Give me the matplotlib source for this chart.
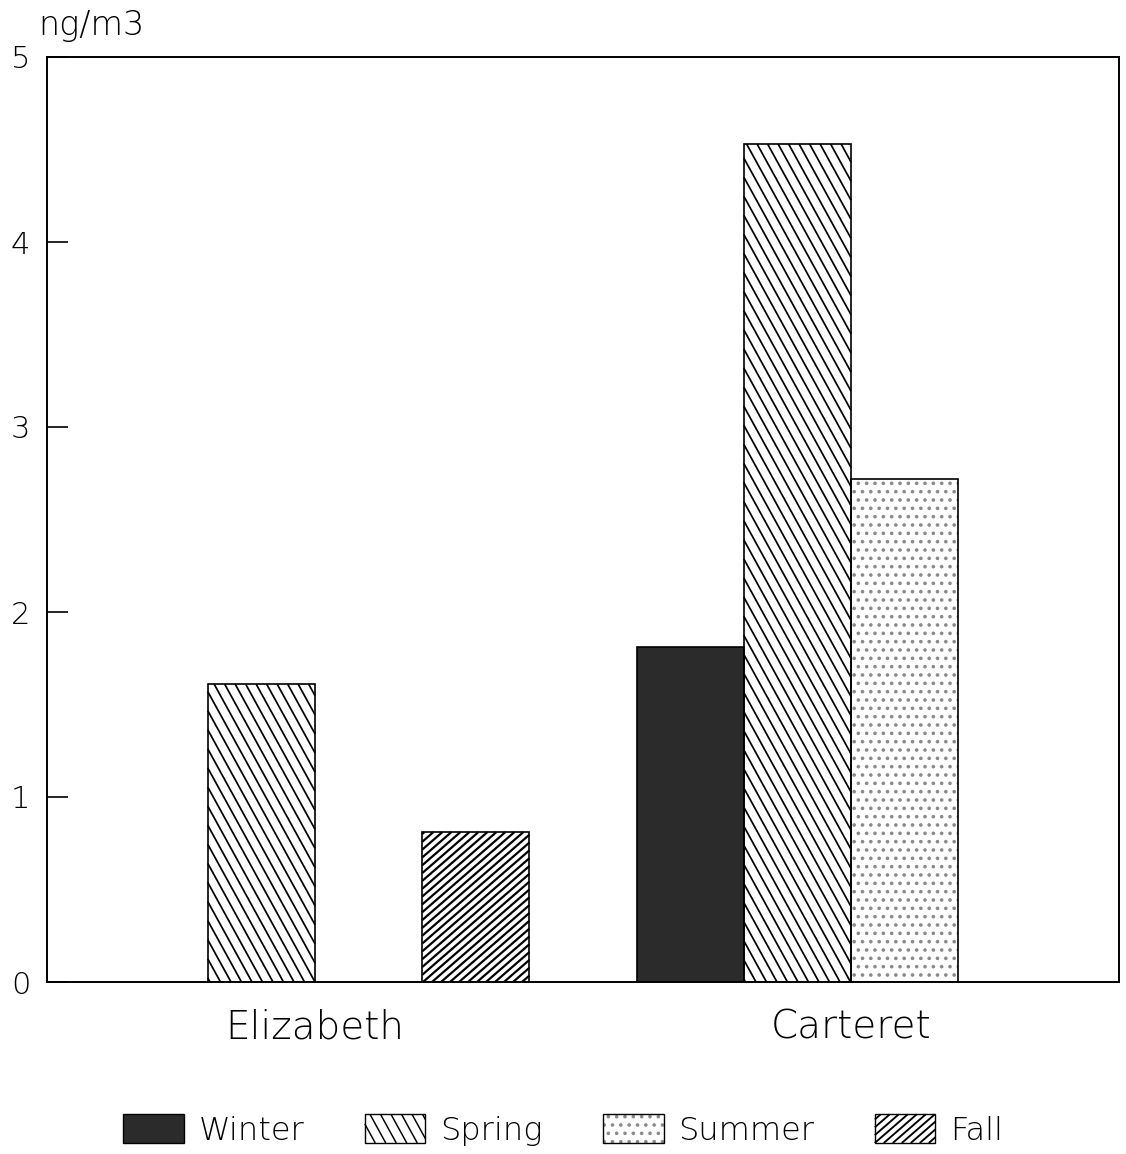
import matplotlib
matplotlib.use("Agg")
import matplotlib.pyplot as plt
import numpy as np
from matplotlib.patches import Patch, Rectangle
from matplotlib.collections import LineCollection
from matplotlib.legend_handler import HandlerBase

plt.rcParams['font.family'] = ['DejaVu Sans']
plt.rcParams['font.weight'] = 'light'
plt.rcParams['hatch.linewidth'] = 1.4

sites = ["Elizabeth", "Carteret"]
seasons = ["Winter", "Spring", "Summer", "Fall"]
values = {
    "Winter": [0.0, 1.81],
    "Spring": [1.61, 4.53],
    "Summer": [0.0, 2.72],
    "Fall":   [0.81, 0.0],
}
yticks = [0, 1, 2, 3, 4, 5]
unit_label = "ng/m3"

# line hatching: (horizontal spacing px, dx/dy slope, direction, linewidth pt)
line_hatch = {
    "Spring": (10.5, 0.55, -1, 1.25),
    "Fall":   (9.0, 1.15, +1, 1.6),
}
styles = {
    "Winter": dict(facecolor="#2b2b2b", hatch=None, hatchcolor="black"),
    "Spring": dict(facecolor="white", hatch=None, hatchcolor="black"),
    "Summer": dict(facecolor="white", hatch="..", hatchcolor="#8a8a8a"),
    "Fall":   dict(facecolor="white", hatch=None, hatchcolor="black"),
}


def hatch_segments(x0, y0, w, h, spacing, slope, sign):
    shift = slope * h
    if sign > 0:
        cmin, cmax = x0 - shift, x0 + w
    else:
        cmin, cmax = x0, x0 + w + shift
    cs = np.arange(np.ceil(cmin / spacing) * spacing, cmax, spacing)
    segs = []
    for c in cs:
        ya = y0 + (x0 - c) / (sign * slope)
        yb = y0 + (x0 + w - c) / (sign * slope)
        lo = max(y0, min(ya, yb))
        hi = min(y0 + h, max(ya, yb))
        if hi > lo:
            segs.append([(c + sign * slope * (lo - y0), lo),
                         (c + sign * slope * (hi - y0), hi)])
    return segs


fig = plt.figure(figsize=(11.26, 11.54), dpi=100)
ax = fig.add_axes([47/1126, 1 - 982/1154, (1119-47)/1126, (982-57)/1154])
ax.set_xlim(0, 10)
ax.set_ylim(0, 5)

group_starts = [1.0, 6.0]
for i, s in enumerate(seasons):
    for g, start in enumerate(group_starts):
        v = values[s][g]
        if v <= 0:
            continue
        st = styles[s]
        bars = ax.bar(start + i, v, width=1.0, facecolor=st["facecolor"], hatch=st["hatch"],
                      edgecolor=st["hatchcolor"], linewidth=0)
        if s in line_hatch:
            sp, sl, sg, lw = line_hatch[s]
            r = bars[0]
            (px0, py0) = ax.transData.transform((r.get_x(), r.get_y()))
            (px1, py1) = ax.transData.transform((r.get_x() + r.get_width(),
                                                 r.get_y() + r.get_height()))
            segs = hatch_segments(px0, py0, px1 - px0, py1 - py0, sp, sl, sg)
            inv = ax.transData.inverted()
            segs_d = [inv.transform(np.array(sg_)) for sg_ in segs]
            ax.add_collection(LineCollection(segs_d, colors="black", linewidths=lw,
                                             capstyle='butt', zorder=1.5))
        ax.bar(start + i, v, width=1.0, fill=False, edgecolor="black", linewidth=1.2,
               zorder=2)

ax.set_yticks(yticks)
ax.set_yticklabels([str(t) for t in yticks], fontsize=22, fontweight='light')
ax.tick_params(axis='y', direction='in', length=15, width=1.2, pad=12)
ax.set_xticks([2.5, 7.5])
ax.set_xticklabels(sites, fontsize=28, fontweight='light')
ax.tick_params(axis='x', length=0, pad=19)
for sp_ in ax.spines.values():
    sp_.set_linewidth(1.4)
    sp_.set_zorder(3)

fig.text(38/1126, 1 - 25/1154, unit_label, fontsize=24, va='center', ha='left',
         fontweight='light')


class LineHatchSpec:
    def __init__(self, season):
        self.season = season


class LineHatchHandler(HandlerBase):
    def create_artists(self, legend, orig_handle, xdescent, ydescent, width, height,
                       fontsize, trans):
        sp, sl, sg, lw = line_hatch[orig_handle.season]
        x0, y0 = -xdescent, -ydescent
        rect = Rectangle((x0, y0), width, height, facecolor="white",
                         edgecolor="black", linewidth=1.0, transform=trans)
        segs = hatch_segments(x0, y0, width, height, sp * 0.72, sl, sg)
        lc = LineCollection(segs, colors="black", linewidths=lw * 0.85,
                            capstyle='butt', transform=trans)
        return [rect, lc]


handles = []
for s in seasons:
    if s in line_hatch:
        handles.append(LineHatchSpec(s))
    else:
        handles.append((Patch(facecolor=styles[s]["facecolor"], hatch=styles[s]["hatch"],
                              edgecolor=styles[s]["hatchcolor"], linewidth=0),
                        Patch(fill=False, edgecolor="black", linewidth=1.0)))

fig.legend(handles, seasons, loc='center', bbox_to_anchor=(0.5, 1 - 1130/1154),
           ncol=4, frameon=False, prop={'size': 23, 'weight': 'light'},
           handlelength=1.9, handleheight=1.0, columnspacing=1.9, handletextpad=0.45,
           handler_map={LineHatchSpec: LineHatchHandler()})

fig.savefig("out.png", dpi=100)
